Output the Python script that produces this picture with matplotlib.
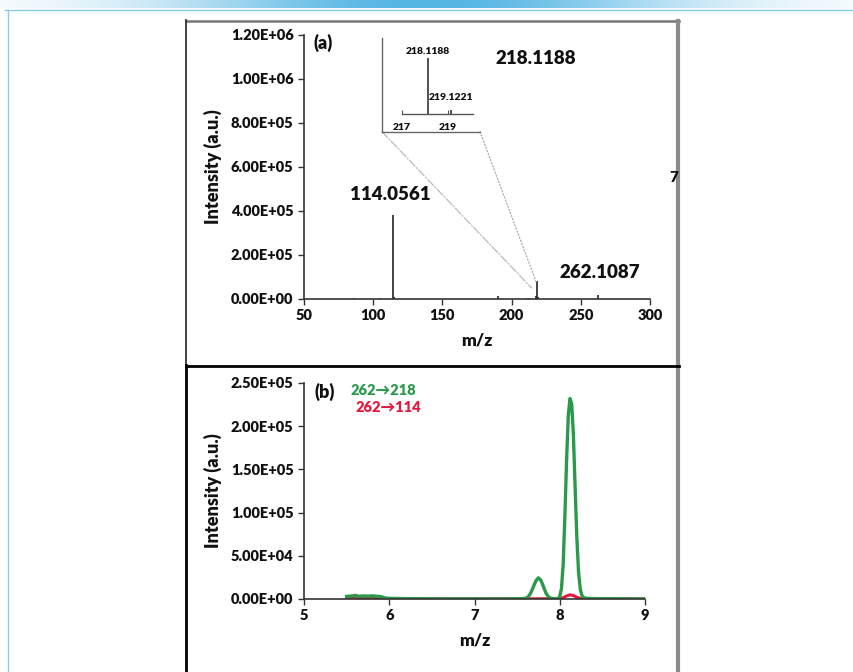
import numpy as np
import matplotlib
matplotlib.use('Agg')
import matplotlib.pyplot as plt
from matplotlib.lines import Line2D
from matplotlib.patches import ConnectionPatch
from matplotlib.colors import LinearSegmentedColormap
from matplotlib.ticker import FuncFormatter

plt.rcParams['font.family'] = ['Lato', 'DejaVu Sans']
plt.rcParams['font.weight'] = 'heavy'
plt.rcParams['axes.labelweight'] = 'heavy'

W, H = 854, 672

# (a) mass spectrum, stick peaks
spec_mz = [86.1, 105.0, 114.0561, 115.06, 190.1, 212.0, 217.6, 218.1188, 219.1221, 262.1087]
spec_int = [3000, 2500, 382000, 9000, 15000, 4000, 12000, 83000, 8000, 20000]

# zoomed window around the 218 ion
zoom_mz = [218.1188, 219.1221]
zoom_int = [83000, 6400]
zoom_ticks = [217, 219]

# (b) transition traces
t_218 = [5.50, 5.55, 5.60, 5.65, 5.70, 5.75, 5.80, 5.85, 5.90, 5.95, 6.00, 6.10, 6.20,
         6.40, 6.60, 7.00, 7.40, 7.55, 7.60, 7.63, 7.66, 7.69, 7.72, 7.75, 7.78, 7.81,
         7.84, 7.87, 7.90, 7.95, 7.98, 8.00, 8.02, 8.04, 8.06, 8.08, 8.10, 8.12, 8.14,
         8.16, 8.18, 8.20, 8.22, 8.24, 8.26, 8.28, 8.32, 8.40, 8.60, 8.80, 9.00]
i_218 = [3000, 3500, 3800, 3200, 3500, 3300, 3600, 3200, 2800, 1200, 800, 600, 400,
         300, 200, 200, 200, 300, 800, 2500, 7000, 14000, 21000, 24500, 21500, 14000,
         6500, 2200, 700, 300, 600, 3000, 12000, 40000, 95000, 160000, 212000, 232000, 226000,
         190000, 130000, 72000, 32000, 12000, 4000, 1500, 800, 500, 300, 200, 100]
t_114 = [5.50, 5.58, 5.60, 5.62, 5.70, 6.00, 7.00, 8.00, 8.04, 8.08, 8.12, 8.16, 8.20,
         8.24, 8.30, 9.00]
i_114 = [500, 1500, 4500, 1500, 500, 200, 100, 300, 1500, 3500, 4800, 4000, 2000,
         700, 200, 100]


def fx(px):
    return px / W


def fy(py):
    return 1 - py / H


def sci(v, pos):
    return '%.2E' % v


fig = plt.figure(figsize=(W / 100, H / 100), dpi=100)

# header strip and page frame
band = fig.add_axes([0, fy(8), 1, 8 / H])
xs = np.linspace(0, 1, 400)
prof = np.exp(-((xs - 0.5) / 0.3) ** 2)
cmap = LinearSegmentedColormap.from_list('band', ['white', '#55b5e3'])
band.imshow(prof[None, :], aspect='auto', cmap=cmap, vmin=0, vmax=1)
band.axis('off')

blue = '#86cbec'
fig.add_artist(Line2D([fx(5), 1], [fy(9.5), fy(9.5)], color=blue, lw=1))
fig.add_artist(Line2D([fx(8.3), fx(8.3)], [fy(9.5), 0], color=blue, lw=1))

# panel boxes
fig.add_artist(Line2D([fx(186), fx(679)], [fy(20.7), fy(20.7)], color='#777777', lw=1.8))
fig.add_artist(Line2D([fx(678), fx(678)], [fy(21), 0], color='#8a8a8a', lw=3))
fig.add_artist(Line2D([fx(186), fx(186)], [fy(20), fy(365)], color='#222222', lw=1.2))
fig.add_artist(Line2D([fx(186), fx(186)], [fy(365), 0], color='black', lw=2))
fig.add_artist(Line2D([fx(186), fx(679)], [fy(365.7), fy(365.7)], color='black', lw=2))

ink = '#111111'


def style(ax):
    for s in ['top', 'right']:
        ax.spines[s].set_visible(False)
    for s in ['left', 'bottom']:
        ax.spines[s].set_color('#333333')
        ax.spines[s].set_linewidth(1.2)
    ax.tick_params(direction='out', length=4, width=1, color='#333333',
                   labelsize=10.5, labelcolor=ink)
    ax.yaxis.set_major_formatter(FuncFormatter(sci))
    for tk in ax.xaxis.get_major_ticks() + ax.yaxis.get_major_ticks():
        tk.label1.set_fontweight('heavy')
    ax.set_facecolor('none')


# (a)
ax1 = fig.add_axes([fx(304), fy(299), (650 - 304) / W, (299 - 35) / H])
ax1.vlines(spec_mz, 0, spec_int, color='#222222', lw=1.2)
ax1.set_xlim(50, 300)
ax1.set_ylim(0, 1.2e6)
ax1.set_xticks([50, 100, 150, 200, 250, 300])
ax1.set_yticks(np.arange(0, 1.21e6, 2e5))
style(ax1)
ax1.set_xlabel('m/z', fontsize=12.5, color=ink, labelpad=7)
ax1.set_ylabel('Intensity (a.u.)', fontsize=13, color=ink, labelpad=6)

fig.text(fx(323), fy(43), '(a)', fontsize=13, color=ink, ha='center', va='center')
fig.text(fx(390), fy(195), '114.0561', fontsize=13.5, color=ink, ha='center', va='center')
fig.text(fx(600), fy(272), '262.1087', fontsize=13.5, color=ink, ha='center', va='center')
fig.text(fx(536), fy(58), '218.1188', fontsize=13.5, color=ink, ha='center', va='center')
fig.text(fx(674), fy(177), '7', fontsize=11, color=ink, ha='center', va='center')

# zoomed inset
axi = fig.add_axes([fx(401.7), fy(114.3), (473 - 401.7) / W, (114.3 - 40) / H])
axi.vlines(zoom_mz, 0, zoom_int, color='#333333', lw=1.2)
axi.set_xlim(217, 220.08)
axi.set_ylim(0, 110000)
axi.set_xticks(zoom_ticks)
axi.set_yticks([])
for s in ['top', 'right', 'left']:
    axi.spines[s].set_visible(False)
axi.spines['bottom'].set_color('#555555')
axi.spines['bottom'].set_linewidth(1)
axi.tick_params(axis='x', direction='in', length=3, width=0.8, color='#555555',
                labelsize=7.5, labelcolor=ink, pad=6)
axi.set_facecolor('none')
axi.text(zoom_mz[0], 0.78, '%.4f' % zoom_mz[0], transform=axi.get_xaxis_transform(),
         fontsize=7.5, color=ink, ha='center', va='bottom')
axi.text(zoom_mz[1], 0.16, '%.4f' % zoom_mz[1], transform=axi.get_xaxis_transform(),
         fontsize=7.5, color=ink, ha='center', va='bottom')

fig.add_artist(Line2D([fx(382), fx(382)], [fy(38), fy(131.7)], color='#666666', lw=1))
fig.add_artist(Line2D([fx(382), fx(480)], [fy(131.7), fy(131.7)], color='#666666', lw=1))

c1 = ConnectionPatch(xyA=(fx(382), fy(131.7)), coordsA=fig.transFigure,
                     xyB=(214.5, 50000), coordsB=ax1.transData,
                     color='#bbbbbb', lw=0.9, linestyle='-.')
c2 = ConnectionPatch(xyA=(fx(480), fy(131.7)), coordsA=fig.transFigure,
                     xyB=(218.0, 73000), coordsB=ax1.transData,
                     color='#aaaaaa', lw=0.9, linestyle=':')
fig.add_artist(c1)
fig.add_artist(c2)

# (b)
ax2 = fig.add_axes([fx(304), fy(599), (645 - 304) / W, (599 - 383) / H])
ax2.plot(t_114, i_114, color='#e8173c', lw=2.2)
ax2.plot(t_218, i_218, color='#2a9a4a', lw=2.4)
ax2.set_xlim(5, 9)
ax2.set_ylim(0, 2.5e5)
ax2.set_xticks([5, 6, 7, 8, 9])
ax2.set_yticks(np.arange(0, 2.51e5, 5e4))
style(ax2)
ax2.set_xlabel('m/z', fontsize=12.5, color=ink, labelpad=7)
ax2.set_ylabel('Intensity (a.u.)', fontsize=13, color=ink, labelpad=6)

fig.text(fx(325), fy(392), '(b)', fontsize=13, color=ink, ha='center', va='center')
fig.text(fx(383), fy(390), '262→218', fontsize=10.5, color='#2a9a4a', ha='center', va='center')
fig.text(fx(388), fy(408), '262→114', fontsize=10.5, color='#e8173c', ha='center', va='center')

fig.savefig('out.png', dpi=100)
